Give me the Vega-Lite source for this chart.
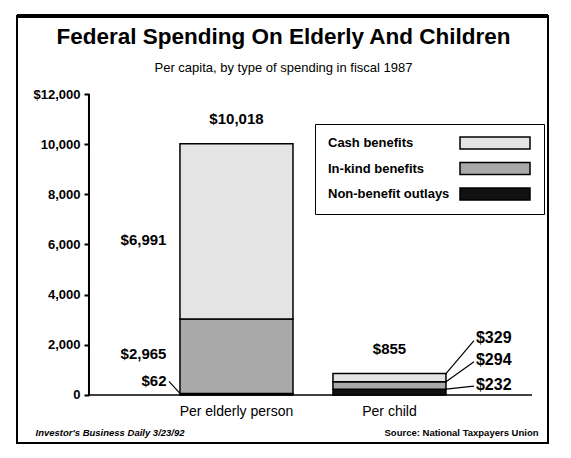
{
  "$schema": "https://vega.github.io/schema/vega-lite/v6.json",
  "autosize": {"type": "none"},
  "width": 531,
  "height": 427,
  "padding": {"left": 17, "top": 16, "right": 23, "bottom": 15},
  "background": "white",
  "title": {
    "text": "Federal Spending On Elderly And Children",
    "subtitle": "Per capita, by type of spending in fiscal 1987",
    "anchor": "middle",
    "frame": "group",
    "dx": 1,
    "offset": -61,
    "font": "Liberation Sans Narrow, Arial Narrow, Liberation Sans, sans-serif",
    "fontSize": 22.5,
    "fontWeight": "bold",
    "color": "black",
    "subtitleFont": "Liberation Sans Narrow, Arial Narrow, Liberation Sans, sans-serif",
    "subtitleFontSize": 13,
    "subtitleColor": "black",
    "subtitlePadding": 14
  },
  "datasets": {
    "spending": [
      {"group": "Per elderly person", "segment": "Non-benefit outlays", "amount": 62},
      {"group": "Per elderly person", "segment": "In-kind benefits", "amount": 2965},
      {"group": "Per elderly person", "segment": "Cash benefits", "amount": 6991},
      {"group": "Per child", "segment": "Non-benefit outlays", "amount": 232},
      {"group": "Per child", "segment": "In-kind benefits", "amount": 294},
      {"group": "Per child", "segment": "Cash benefits", "amount": 329}
    ],
    "frame": [{"part": "frame"}]
  },
  "layer": [
    {
      "data": {"name": "frame"},
      "mark": {"type": "rule", "color": "black", "strokeWidth": 4},
      "encoding": {"y": {"datum": 15110}}
    },
    {
      "data": {"name": "spending"},
      "transform": [
        {"stack": "amount", "groupby": ["group"], "sort": [{"field": "segment", "order": "descending"}], "as": ["y0", "y1"]}
      ],
      "encoding": {
        "x": {
          "field": "group",
          "type": "nominal",
          "scale": {"domain": ["Per elderly person", "Per child"], "paddingInner": 0.2614, "paddingOuter": 0.866, "align": 0.615},
          "axis": {
            "offset": -48,
            "title": "Source: National Taxpayers Union",
            "titleX": 521,
            "titleY": 37,
            "titleAlign": "right",
            "titleBaseline": "middle",
            "titleFont": "Liberation Sans Narrow, Arial Narrow, Liberation Sans, sans-serif",
            "titleFontSize": 9.5,
            "titleFontWeight": "bold",
            "titleColor": "black",
            "labelAngle": 0,
            "labelFont": "Liberation Sans Narrow, Arial Narrow, Liberation Sans, sans-serif",
            "labelFontSize": 14,
            "labelColor": "black",
            "labelPadding": 9,
            "ticks": false,
            "domain": false
          }
        },
        "y": {
          "field": "y1",
          "type": "quantitative",
          "scale": {"domain": [-1914, 15110], "nice": false, "zero": false},
          "axis": {
            "offset": -72,
            "values": [0, 2000, 4000, 6000, 8000, 10000, 12000],
            "labelExpr": "datum.value == 12000 ? '$12,000' : format(datum.value, ',')",
            "title": "Investor's Business Daily 3/23/92",
            "titleAngle": 0,
            "titleX": -54,
            "titleY": 416,
            "titleAlign": "left",
            "titleBaseline": "middle",
            "titleFont": "Liberation Sans Narrow, Arial Narrow, Liberation Sans, sans-serif",
            "titleFontSize": 9.5,
            "titleFontStyle": "italic",
            "titleFontWeight": "bold",
            "titleColor": "black",
            "grid": false,
            "domain": false,
            "tickColor": "black",
            "tickWidth": 2,
            "tickSize": 5,
            "labelFont": "Liberation Sans Narrow, Arial Narrow, Liberation Sans, sans-serif",
            "labelFontSize": 13,
            "labelFontWeight": "bold",
            "labelColor": "black",
            "labelPadding": 4
          }
        }
      },
      "layer": [
        {
          "transform": [{"filter": "datum.group == 'Per elderly person' && datum.segment == 'Cash benefits'"}],
          "layer": [
            {
              "mark": {"type": "rule", "color": "black", "strokeWidth": 2, "xOffset": -147.5},
              "encoding": {"y": {"datum": 0}, "y2": {"datum": 12000}}
            },
            {
              "mark": {"type": "rule", "color": "black", "strokeWidth": 1.5, "xOffset": -147.5, "x2Offset": 295.5},
              "encoding": {"x2": {"field": "group"}, "y": {"datum": 0}}
            }
          ]
        },
        {
          "mark": {"type": "bar", "stroke": "black", "strokeWidth": 1.5},
          "encoding": {
            "y2": {"field": "y0"},
            "color": {
              "field": "segment",
              "type": "nominal",
              "scale": {
                "domain": ["Cash benefits", "In-kind benefits", "Non-benefit outlays"],
                "range": ["#e4e4e4", "#a9a9a9", "#111111"]
              },
              "legend": {
                "orient": "none",
                "legendX": 298,
                "legendY": 108,
                "title": null,
                "symbolType": "M-5,-0.857L5,-0.857L5,0.857L-5,0.857Z",
                "symbolSize": 196,
                "symbolStrokeColor": "black",
                "symbolStrokeWidth": 1.5,
                "symbolOpacity": 1,
                "symbolOffset": 161,
                "labelOffset": -175,
                "rowPadding": 7.5,
                "labelFont": "Liberation Sans Narrow, Arial Narrow, Liberation Sans, sans-serif",
                "labelFontSize": 13,
                "labelFontWeight": "bold",
                "labelColor": "black",
                "labelLimit": 200,
                "strokeColor": "black",
                "padding": 11
              }
            }
          }
        },
        {
          "transform": [{"filter": "datum.segment == 'Cash benefits'"}],
          "mark": {"type": "text", "dy": -25},
          "encoding": {"text": {"field": "y1", "format": "$,.0f"}}
        },
        {
          "transform": [{"filter": "datum.group == 'Per elderly person' && datum.segment == 'Cash benefits'"}],
          "mark": {"type": "text", "align": "right", "dx": -70, "dy": 96},
          "encoding": {"text": {"field": "amount", "format": "$,.0f"}}
        },
        {
          "transform": [{"filter": "datum.group == 'Per elderly person' && datum.segment == 'In-kind benefits'"}],
          "mark": {"type": "text", "align": "right", "dx": -70, "dy": 35},
          "encoding": {"text": {"field": "amount", "format": "$,.0f"}}
        },
        {
          "transform": [{"filter": "datum.group == 'Per elderly person' && datum.segment == 'Non-benefit outlays'"}],
          "layer": [
            {
              "mark": {"type": "text", "align": "right", "dx": -70, "dy": -12},
              "encoding": {"text": {"field": "amount", "format": "$,.0f"}}
            },
            {
              "mark": {"type": "rule", "color": "black", "strokeWidth": 1.2, "xOffset": -56.5, "x2Offset": -67.5, "y2Offset": -12},
              "encoding": {"x2": {"field": "group"}, "y2": {"field": "y1"}}
            }
          ]
        },
        {
          "transform": [{"filter": "datum.group == 'Per child' && datum.segment == 'Cash benefits'"}],
          "layer": [
            {
              "mark": {"type": "text", "align": "left", "dx": 86.5, "dy": -36, "fontSize": 16},
              "encoding": {"text": {"field": "amount", "format": "$,.0f"}}
            },
            {
              "mark": {"type": "rule", "color": "black", "strokeWidth": 1.2, "xOffset": 56.5, "x2Offset": 84.5, "y2Offset": -33},
              "encoding": {"x2": {"field": "group"}, "y2": {"field": "y1"}}
            }
          ]
        },
        {
          "transform": [{"filter": "datum.group == 'Per child' && datum.segment == 'In-kind benefits'"}],
          "layer": [
            {
              "mark": {"type": "text", "align": "left", "dx": 86.5, "dy": -22, "fontSize": 16},
              "encoding": {"text": {"field": "amount", "format": "$,.0f"}}
            },
            {
              "mark": {"type": "rule", "color": "black", "strokeWidth": 1.2, "xOffset": 56.5, "x2Offset": 84.5, "y2Offset": -20},
              "encoding": {"x2": {"field": "group"}, "y2": {"field": "y1"}}
            }
          ]
        },
        {
          "transform": [{"filter": "datum.group == 'Per child' && datum.segment == 'Non-benefit outlays'"}],
          "layer": [
            {
              "mark": {"type": "text", "align": "left", "dx": 86.5, "dy": -4, "fontSize": 16},
              "encoding": {"text": {"field": "amount", "format": "$,.0f"}}
            },
            {
              "mark": {"type": "rule", "color": "black", "strokeWidth": 1.2, "xOffset": 56.5, "x2Offset": 84.5, "y2Offset": -3},
              "encoding": {"x2": {"field": "group"}, "y2": {"field": "y1"}}
            }
          ]
        }
      ]
    }
  ],
  "config": {
    "view": {"stroke": "black", "strokeWidth": 2},
    "text": {
      "font": "Liberation Sans Narrow, Arial Narrow, Liberation Sans, sans-serif",
      "fontSize": 15,
      "fontWeight": "bold",
      "color": "black",
      "baseline": "middle"
    }
  }
}
